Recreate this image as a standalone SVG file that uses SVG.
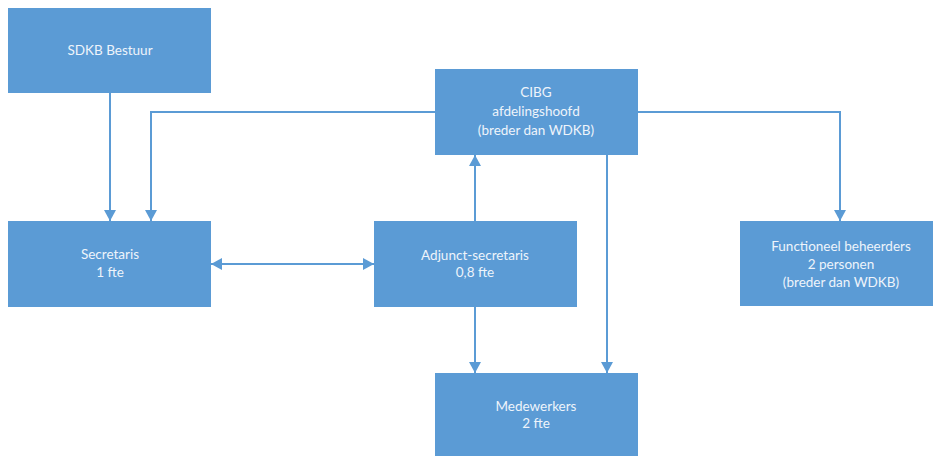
<svg xmlns="http://www.w3.org/2000/svg" width="934" height="456" viewBox="0 0 934 456">
<defs>
<style>
.box{fill:#5b9bd5}
.t{font-family:Lato,"Open Sans","Liberation Sans",sans-serif;font-size:13.5px;fill:#eef4fb;text-anchor:middle}
.c{fill:none;stroke:#5b9bd5;stroke-width:2}
</style>
<marker id="ah" markerUnits="userSpaceOnUse" markerWidth="12" markerHeight="12" viewBox="0 0 12 12" refX="11" refY="6" orient="auto-start-reverse">
<path d="M0,0 L11,6 L0,12 Z" fill="#5b9bd5"/>
</marker>
</defs>
<rect width="934" height="456" fill="#ffffff"/>
<g id="connectors">
<path class="c" d="M110,93 V221" marker-end="url(#ah)"/>
<path class="c" d="M435,112 H151 V221" marker-end="url(#ah)"/>
<path class="c" d="M638,112 H840 V221" marker-end="url(#ah)"/>
<path class="c" d="M475,221 V155" marker-end="url(#ah)"/>
<path class="c" d="M607,155 V373" marker-end="url(#ah)"/>
<path class="c" d="M475,307 V373" marker-end="url(#ah)"/>
<path class="c" d="M211,264 H374" marker-start="url(#ah)" marker-end="url(#ah)"/>
</g>
<g id="sdkb">
<rect class="box" x="8" y="8" width="203" height="85"/>
<text class="t" x="110" y="55">SDKB Bestuur</text>
</g>
<g id="cibg">
<rect class="box" x="435" y="69" width="203" height="86"/>
<text class="t" x="536" y="97">CIBG</text>
<text class="t" x="536" y="116">afdelingshoofd</text>
<text class="t" x="536" y="135">(breder dan WDKB)</text>
</g>
<g id="secretaris">
<rect class="box" x="8" y="221" width="203" height="86"/>
<text class="t" x="110" y="259">Secretaris</text>
<text class="t" x="110" y="277">1 fte</text>
</g>
<g id="adjunct">
<rect class="box" x="374" y="221" width="203" height="86"/>
<text class="t" x="475" y="260">Adjunct-secretaris</text>
<text class="t" x="475" y="277">0,8 fte</text>
</g>
<g id="functioneel">
<rect class="box" x="740" y="221" width="193" height="85"/>
<text class="t" x="841" y="251">Functioneel beheerders</text>
<text class="t" x="841" y="269">2 personen</text>
<text class="t" x="841" y="287">(breder dan WDKB)</text>
</g>
<g id="medewerkers">
<rect class="box" x="435" y="373" width="203" height="83"/>
<text class="t" x="536" y="411">Medewerkers</text>
<text class="t" x="536" y="428">2 fte</text>
</g>
</svg>
